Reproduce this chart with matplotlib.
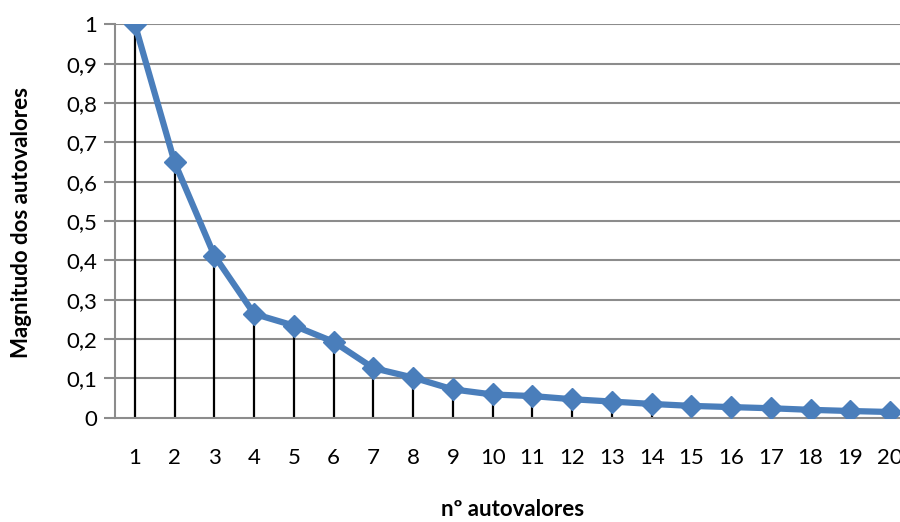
import matplotlib
matplotlib.use("Agg")
import matplotlib.pyplot as plt
from matplotlib.ticker import FuncFormatter

# eigenvalue magnitudes
n_autoval = list(range(1, 21))
magnitude = [1.0, 0.649, 0.412, 0.264, 0.234, 0.193, 0.126, 0.102, 0.072, 0.059,
             0.055, 0.047, 0.041, 0.035, 0.030, 0.027, 0.024, 0.020, 0.017, 0.0145]
y_ticks = [0, 0.1, 0.2, 0.3, 0.4, 0.5, 0.6, 0.7, 0.8, 0.9, 1.0]

plt.rcParams["font.family"] = ["Lato", "DejaVu Sans"]

fig = plt.figure(figsize=(9, 5.22), dpi=100)
# axes run past the right edge, like the cropped Excel chart
ax = fig.add_axes([115 / 900, 104.3 / 522, 795 / 900, 393.4 / 522])

grid_c = "#8c8c8c"
for v in y_ticks[1:]:
    ax.axhline(v, color=grid_c, lw=1.5, zorder=1)

# drop lines
ax.vlines(n_autoval, 0, magnitude, color="black", lw=1.6, zorder=2)
ax.plot(n_autoval, magnitude, color="#4a7ebb", lw=4.5, marker="D", ms=11,
        markeredgecolor="#4a7ebb", zorder=3, solid_joinstyle="round")

ax.set_xlim(0.5, 20.5)
ax.set_ylim(0, 1)
ax.set_yticks(y_ticks)
ax.yaxis.set_major_formatter(FuncFormatter(
    lambda v, _: "0" if v == 0 else ("1" if v == 1 else f"{v:.1f}".replace(".", ","))))
ax.set_xticks(n_autoval)
ax.tick_params(axis="y", colors=grid_c, length=8, width=1.5, labelsize=16,
               labelcolor="black", pad=5)
ax.tick_params(axis="x", length=0, labelsize=16, pad=22)

for s in ["top", "right"]:
    ax.spines[s].set_visible(False)
ax.spines["left"].set_color(grid_c)
ax.spines["left"].set_linewidth(1.5)
ax.spines["bottom"].set_color(grid_c)
ax.spines["bottom"].set_linewidth(1.5)

fig.text(22 / 900, 1 - 222 / 522, "Magnitudo dos autovalores", fontsize=16,
         fontweight="bold", rotation=90, ha="center", va="center")
fig.text(513 / 900, 1 - 510 / 522, "nº autovalores", fontsize=16, fontweight="bold",
         ha="center", va="center")

fig.savefig("out.png", dpi=100)
